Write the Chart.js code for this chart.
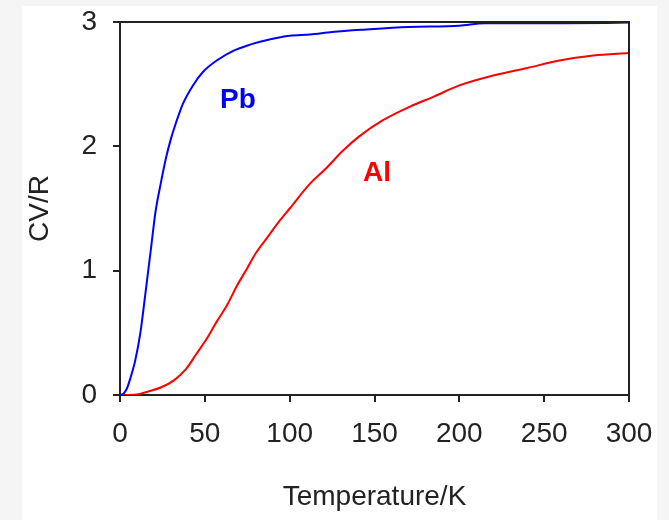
<!DOCTYPE html>
<html>
<head>
<meta charset="utf-8">
<script src="https://cdn.jsdelivr.net/npm/chart.js@4"></script>
<style>
    body { margin: 0; background: #f5f5f5; }
    #panel { position: absolute; left: 22px; top: 6px; width: 635px; height: 514px; background: #ffffff; }
    #wrap { position: absolute; left: 0; top: 0; width: 669px; height: 520px; }
</style>
</head>
<body>
<div id="panel"></div>
<div id="wrap"><canvas id="heat-chart" width="669" height="520"></canvas></div>
<script>
// Pb curve (temperature K, Cv/R)
const pbTemp = [0, 2, 4, 6, 9, 12, 15, 18, 21, 24, 27, 30, 33, 37, 43, 49, 57, 67, 77, 88, 100, 112, 125, 145, 170, 200, 215, 260, 300];
const pbCv = [0, 0.01, 0.05, 0.13, 0.28, 0.5, 0.82, 1.15, 1.48, 1.7, 1.9, 2.06, 2.19, 2.34, 2.49, 2.6, 2.69, 2.77, 2.82, 2.86, 2.89, 2.9, 2.92, 2.94, 2.96, 2.97, 2.99, 2.99, 2.995];

// Al curve
const alTemp = [0, 10, 17, 24, 32, 39, 45, 51, 57, 63, 69, 75, 80, 87, 94, 100, 112, 122, 131, 141, 155, 171, 185, 200, 220, 240, 259, 279, 300];
const alCv = [0, 0.005, 0.03, 0.06, 0.12, 0.21, 0.33, 0.45, 0.59, 0.72, 0.88, 1.02, 1.14, 1.27, 1.4, 1.5, 1.7, 1.83, 1.96, 2.08, 2.21, 2.32, 2.4, 2.49, 2.57, 2.63, 2.69, 2.73, 2.75];

// axis ticks
const xTicks = [0, 50, 100, 150, 200, 250, 300];
const yTicks = [0, 1, 2, 3];

// curve labels inside the plot
const labelText = ["Pb", "Al"];
const labelTemp = [69.5, 151.5];
const labelCv = [2.37, 1.78];
const labelColor = ["#0000ff", "#ff0000"];

const axisColor = "#222222";
const fontFamily = "'Liberation Sans', Arial, sans-serif";
const tickLen = 7;

function toPoints(xs, ys) {
    return xs.map((x, i) => ({ x: x, y: ys[i] }));
}

// top and right edges of the plot box + outward tick marks
const frameBox = {
    id: "frameBox",
    afterDraw(chart) {
        const { ctx, chartArea, scales } = chart;
        ctx.save();
        ctx.strokeStyle = axisColor;
        ctx.lineWidth = 2;
        ctx.beginPath();
        ctx.moveTo(chartArea.left, chartArea.top);
        ctx.lineTo(chartArea.right, chartArea.top);
        ctx.lineTo(chartArea.right, chartArea.bottom);
        xTicks.forEach(v => {
            const px = Math.round(scales.x.getPixelForValue(v));
            ctx.moveTo(px, chartArea.bottom);
            ctx.lineTo(px, chartArea.bottom + tickLen);
        });
        yTicks.forEach(v => {
            const py = Math.round(scales.y.getPixelForValue(v));
            ctx.moveTo(chartArea.left - tickLen, py);
            ctx.lineTo(chartArea.left, py);
        });
        ctx.stroke();
        ctx.restore();
    }
};

// "Pb" / "Al" labels
const curveLabels = {
    id: "curveLabels",
    afterDatasetsDraw(chart) {
        const { ctx, scales } = chart;
        ctx.save();
        ctx.font = "bold 28px " + fontFamily;
        ctx.textAlign = "center";
        ctx.textBaseline = "middle";
        labelText.forEach((t, i) => {
            ctx.fillStyle = labelColor[i];
            ctx.fillText(t, scales.x.getPixelForValue(labelTemp[i]), scales.y.getPixelForValue(labelCv[i]));
        });
        ctx.restore();
    }
};

const gridOpts = {
    drawOnChartArea: false,
    drawTicks: true,
    tickLength: tickLen,
    color: axisColor,
    tickColor: axisColor,
    tickWidth: 2,
    lineWidth: 2
};

new Chart(document.getElementById("heat-chart"), {
    type: "line",
    data: {
        datasets: [{
            label: "Pb",
            data: toPoints(pbTemp, pbCv),
            borderColor: "#0000ff",
            borderWidth: 2,
            pointRadius: 0,
            cubicInterpolationMode: "monotone"
        }, {
            label: "Al",
            data: toPoints(alTemp, alCv),
            borderColor: "#ff0000",
            borderWidth: 2,
            pointRadius: 0,
            cubicInterpolationMode: "monotone"
        }]
    },
    options: {
        responsive: false,
        animation: false,
        layout: { padding: { left: 0, top: 22, right: 40, bottom: 0 } },
        plugins: {
            legend: { display: false },
            tooltip: { enabled: false }
        },
        scales: {
            x: {
                type: "linear",
                min: 0,
                max: 300,
                afterFit: (scale) => {
                    scale.height = 125;
                    scale.paddingLeft = 0;
                    scale.paddingRight = 0;
                },
                afterBuildTicks: (scale) => { scale.ticks = xTicks.map(v => ({ value: v })); },
                ticks: { color: axisColor, padding: 15, font: { family: fontFamily, size: 28 } },
                grid: gridOpts,
                border: { display: true, color: axisColor, width: 2 },
                title: {
                    display: true,
                    text: "Temperature/K",
                    color: axisColor,
                    font: { family: fontFamily, size: 28 },
                    padding: { top: 0, bottom: 6 }
                }
            },
            y: {
                min: 0,
                max: 3,
                afterFit: (scale) => {
                    scale.width = 120;
                    scale.paddingTop = 0;
                    scale.paddingBottom = 0;
                },
                afterBuildTicks: (scale) => { scale.ticks = yTicks.map(v => ({ value: v })); },
                ticks: { color: axisColor, padding: 16, font: { family: fontFamily, size: 28 } },
                grid: gridOpts,
                border: { display: true, color: axisColor, width: 2 },
                title: {
                    display: true,
                    text: "CV/R",
                    color: axisColor,
                    font: { family: fontFamily, size: 28 },
                    padding: { top: 23, bottom: 0 }
                }
            }
        }
    },
    plugins: [frameBox, curveLabels]
});
</script>
</body>
</html>
